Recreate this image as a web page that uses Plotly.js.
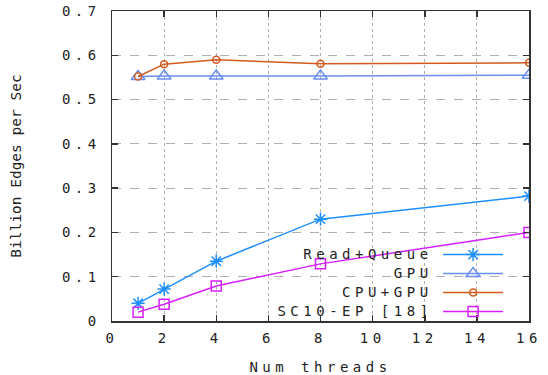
<!DOCTYPE html>
<html>
<head>
<meta charset="utf-8">
<script src="https://cdn.plot.ly/plotly-3.0.1.min.js"></script>
<style>
html, body { margin: 0; padding: 0; background: #fff; }
#chart { width: 548px; height: 375px; }
.xtick text, .ytick text, .xtitle { letter-spacing: 4.5px !important; }
.legend .scrollbox { clip-path: none !important; }
.legendtext { font-size: 14px !important; letter-spacing: 4.5px !important; text-anchor: end !important; transform: translateX(-40.5px); }
.legendlines path { d: path("M10,0h60") !important; }
.legendpoints path.scatterpts { transform: translate(40px, 0px) !important; }
</style>
</head>
<body>
<div id="chart"></div>
<script>
// Data
const threads = [1, 2, 4, 8, 16];
const readQueue = [0.040, 0.072, 0.135, 0.230, 0.282];
const gpu = [0.552, 0.553, 0.553, 0.553, 0.555];
const cpuGpu = [0.552, 0.580, 0.590, 0.581, 0.583];
const sc10ep = [0.020, 0.038, 0.079, 0.129, 0.200];

const seriesNames = ["Read+Queue", "GPU", "CPU+GPU", "SC10-EP [18]"];
const xTickVals = [0, 2, 4, 6, 8, 10, 12, 14, 16];
const yTickVals = [0, 0.1, 0.2, 0.3, 0.4, 0.5, 0.6, 0.7];
const yTickText = ["0", "0.1", "0.2", "0.3", "0.4", "0.5", "0.6", "0.7"];

const mono = "DejaVu Sans Mono, monospace";

function tr(name, y, color, symbol, size) {
  return {
    type: "scatter", mode: "lines+markers", name: name,
    x: threads, y: y,
    line: { color: color, width: 1.5 },
    marker: { symbol: symbol, size: size, color: color, line: { color: color, width: 1.5 } }
  };
}

const data = [
  tr(seriesNames[0], readQueue, "#1e8fff", "asterisk-open", 11),
  tr(seriesNames[1], gpu, "#6a8ff0", "triangle-up-open", 12),
  tr(seriesNames[2], cpuGpu, "#d45a1e", "circle-open", 7),
  tr(seriesNames[3], sc10ep, "#d61fff", "square-open", 10)
];

const axisCommon = {
  showline: true, linecolor: "#333", linewidth: 1.5, mirror: "allticks",
  ticks: "inside", ticklen: 6, tickwidth: 1.5, tickcolor: "#333",
  showgrid: true, gridcolor: "#b0b0b0", gridwidth: 1,
  zeroline: false,
  tickfont: { family: mono, size: 14, color: "#222" }
};

const layout = {
  width: 548, height: 375,
  margin: { l: 112, r: 19, t: 11, b: 54, autoexpand: false },
  paper_bgcolor: "#fff", plot_bgcolor: "#fff",
  showlegend: true,
  legend: {
    x: 0.770, y: 0.261, xanchor: "left", yanchor: "top",
    bgcolor: "rgba(0,0,0,0)", borderwidth: 0,
    font: { family: mono, size: 11, color: "#222" },
    tracegroupgap: 0
  },
  xaxis: Object.assign({}, axisCommon, {
    range: [0, 16], tickvals: xTickVals, griddash: "dot", ticklabelstandoff: 4,
    title: { text: "Num threads", font: { family: mono, size: 14, color: "#222" }, standoff: 19 }
  }),
  yaxis: Object.assign({}, axisCommon, {
    range: [0, 0.7], tickvals: yTickVals, ticktext: yTickText, griddash: "dash", ticklabelstandoff: 7,
    title: { text: "Billion Edges per Sec", font: { family: mono, size: 14.5, color: "#222" }, standoff: 37 }
  })
};

Plotly.newPlot("chart", data, layout, { displayModeBar: false, staticPlot: true });
</script>
</body>
</html>
